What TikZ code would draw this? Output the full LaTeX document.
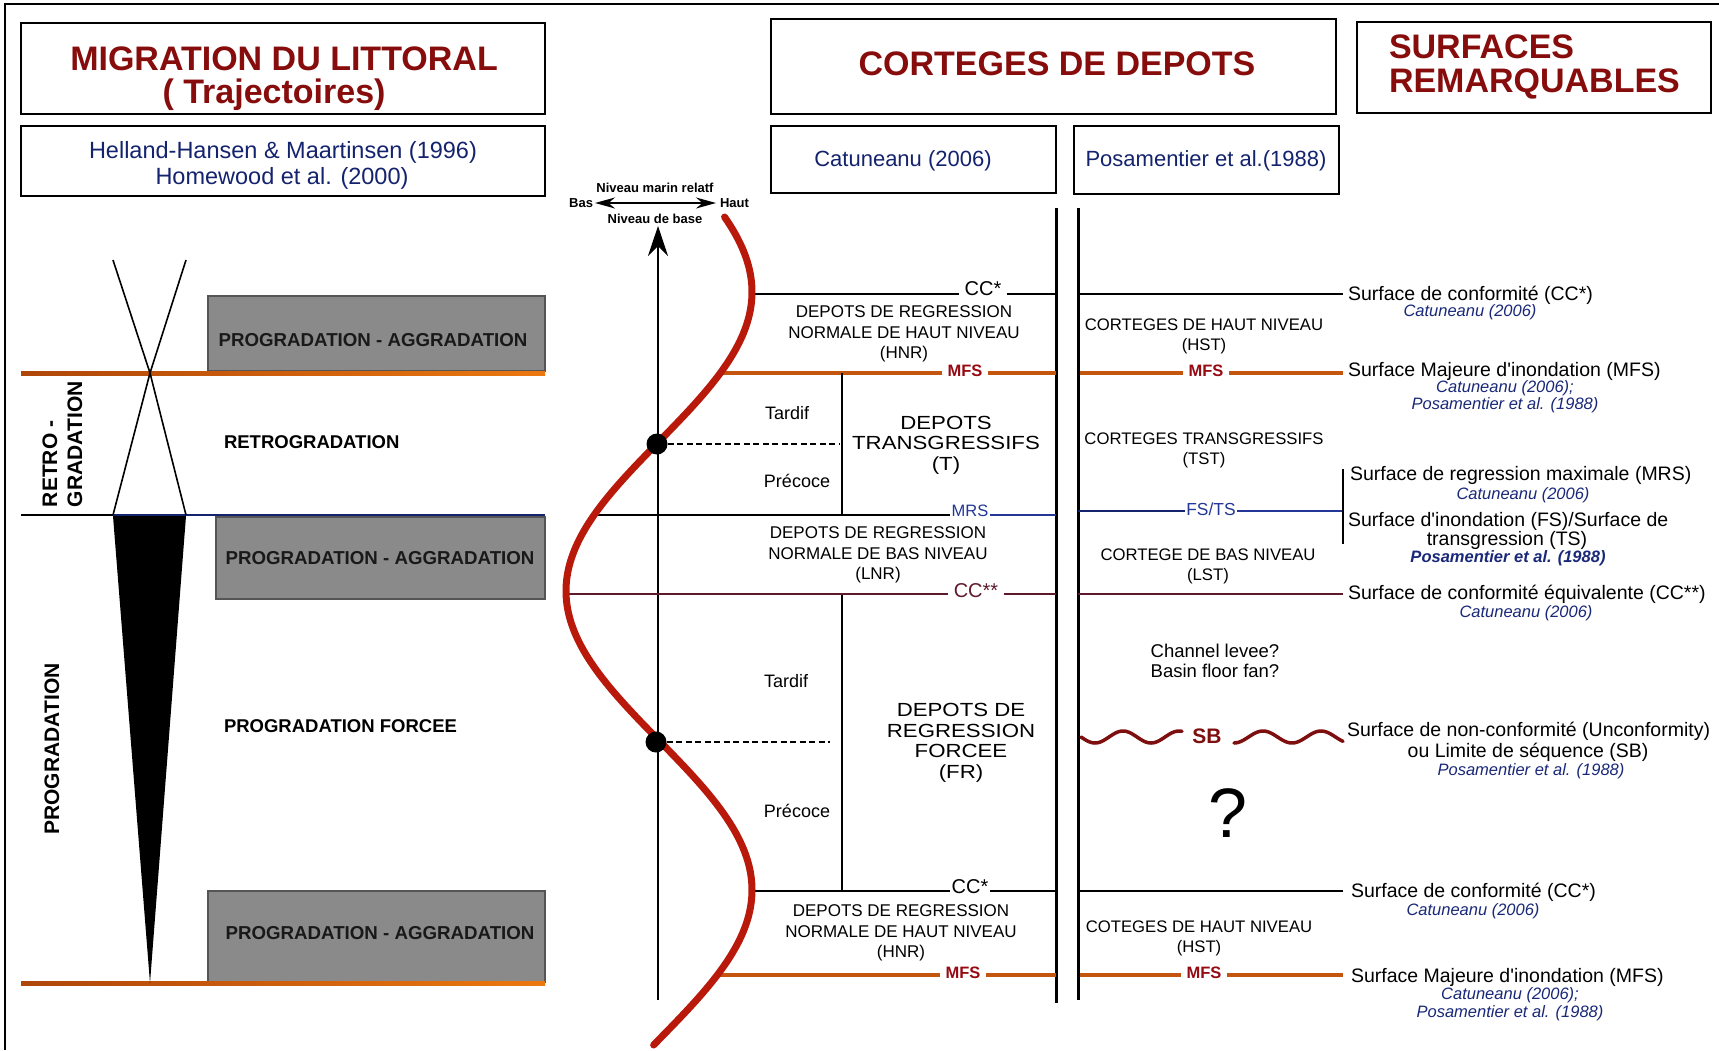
\documentclass[tikz,border=0pt]{standalone}
\usepackage{fontspec}
\setmainfont{Liberation Sans}
\newfontfamily\widefont[FakeStretch=1.17]{Liberation Sans}
\usetikzlibrary{arrows.meta}

\definecolor{titlered}{RGB}{135,12,12}
\definecolor{navy}{RGB}{20,35,110}
\definecolor{refblue}{RGB}{25,40,120}
\definecolor{curvered}{RGB}{185,25,10}
\definecolor{mfsline}{RGB}{195,85,15}
\definecolor{mfstext}{RGB}{150,10,20}
\definecolor{mrsblue}{RGB}{35,55,150}
\definecolor{ccmaroon}{RGB}{95,25,45}
\definecolor{boxgray}{RGB}{138,138,138}
\definecolor{boxedge}{RGB}{85,85,85}
\definecolor{orangeL}{RGB}{175,70,10}
\definecolor{orangeR}{RGB}{235,120,15}
\definecolor{sbred}{RGB}{125,15,15}

\tikzset{
  every node/.style={inner sep=0pt, outer sep=0pt},
  frame/.style={draw=black, line width=2.2pt},
  titletxt/.style={font=\fontsize{34}{36}\selectfont\bfseries, text=titlered},
  reftxt/.style={font=\fontsize{23.5}{26}\selectfont, text=navy},
  hdrtxt/.style={font=\fontsize{22}{26}\selectfont, text=navy},
  graybox/.style={fill=boxgray, draw=boxedge, line width=2pt},
  graytxt/.style={font=\fontsize{18.7}{20}\selectfont\bfseries, text=black!90},
  leftlbl/.style={font=\fontsize{18.5}{20}\selectfont\bfseries},
  vertlbl/.style={font=\fontsize{21}{24}\selectfont\bfseries, rotate=90},
  midtxt/.style={font=\fontsize{17}{20.5}\selectfont, align=center},
  widetxt/.style={font=\widefont\fontsize{19}{20.5}\selectfont, align=center},
  rtxt/.style={font=\fontsize{16.7}{20}\selectfont, align=center},
  phase/.style={font=\fontsize{18}{20}\selectfont},
  surf/.style={font=\fontsize{19.5}{21}\selectfont},
  refit/.style={font=\fontsize{16.5}{18}\selectfont\itshape, text=refblue},
  smalltxt/.style={font=\fontsize{13}{14}\selectfont\bfseries},
  lbl/.style={fill=white, inner xsep=6pt, inner ysep=1pt},
  mfslbl/.style={lbl, font=\fontsize{16.5}{18}\selectfont\bfseries, text=mfstext},
  cclbl/.style={lbl, font=\fontsize{20}{22}\selectfont},
  thinline/.style={line width=2pt},
  mfs/.style={line width=4.5pt, draw=mfsline},
  curve/.style={line width=7pt, draw=curvered, line cap=round},
  dotnode/.style={circle, fill=black, minimum size=21pt},
}

\begin{document}
\begin{tikzpicture}[x=1pt,y=-1pt]
\fill[white] (0,0) rectangle (1719,1050);
\useasboundingbox (0,0) rectangle (1719,1050);

% outer frame
\draw[line width=1.2pt] (5,1050) -- (5,4) -- (1719,4);

% header boxes
\node[frame, minimum width=524pt, minimum height=91pt] (boxA) at (283,68.5) {};
\node[titletxt] (tA1) at (284,58.5) {MIGRATION DU LITTORAL};
\node[titletxt] (tA2) at (274,95) {( Trajectoires)};
\node[frame, minimum width=524pt, minimum height=70pt] (boxB) at (283,161) {};
\node[reftxt] (tB1) at (283,152) {Helland-Hansen \& Maartinsen (1996)};
\node[reftxt] (tB2) at (282,178) {Homewood et al. (2000)};
\node[frame, minimum width=565pt, minimum height=95pt] (boxC) at (1053.5,66.5) {};
\node[titletxt] (tC) at (1057,64) {CORTEGES DE DEPOTS};
\node[frame, minimum width=354pt, minimum height=91pt] (boxD) at (1534,67.5) {};
\node[titletxt, anchor=west] (tD1) at (1389,47) {SURFACES};
\node[titletxt, anchor=west] (tD2) at (1389,84) {REMARQUABLES};
\node[frame, minimum width=285pt, minimum height=67pt] (boxE) at (913.5,159.5) {};
\node[hdrtxt] (tE) at (903,161) {Catuneanu (2006)};
\node[frame, minimum width=265pt, minimum height=68pt] (boxF) at (1206.5,160) {};
\node[hdrtxt] (tF) at (1206,161) {Posamentier et al.(1988)};

% ---------------- left panel ----------------
\node[graybox, minimum width=337pt, minimum height=75pt] (g1) at (376.5,333.5) {};
\node[graybox, minimum width=329pt, minimum height=82pt] (g2) at (380.5,558) {};
\node[graybox, minimum width=337pt, minimum height=91pt] (g3) at (376.5,936.5) {};
\node[graytxt] (g1t) at (373,340) {PROGRADATION - AGGRADATION};
\node[graytxt] (g2t) at (380,558) {PROGRADATION - AGGRADATION};
\node[graytxt] (g3t) at (380,933) {PROGRADATION - AGGRADATION};

\shade[left color=orangeL, right color=orangeR] (21,371) rectangle (545,375.5);
\shade[left color=orangeL, right color=orangeR] (21,981) rectangle (545,985.5);
\draw[line width=1.6pt] (21,515) -- (113,515);
\draw[line width=1.6pt, draw=navy] (113,515) -- (545,515);

\draw[line width=1.6pt] (113,260) -- (150,373) -- (186,515);
\draw[line width=1.6pt] (186,260) -- (150,373) -- (113,515);
\fill[black] (113,516) -- (186,516) -- (150,983) -- cycle;

\node[vertlbl, anchor=west] (retro) at (50,507) {RETRO -};
\node[vertlbl, anchor=west] (grad) at (75,507) {GRADATION};
\node[vertlbl] (prog) at (52,749) {PROGRADATION};
\node[leftlbl, anchor=west] (retrot) at (224,442) {RETROGRADATION};
\node[leftlbl, anchor=west] (progf) at (224,726) {PROGRADATION FORCEE};

% ---------------- axis ----------------
\node[smalltxt] (nmr) at (655,187.5) {Niveau marin relatf};
\node[smalltxt, anchor=east] (bas) at (593,203) {Bas};
\node[smalltxt, anchor=west] (haut) at (720,203) {Haut};
\node[smalltxt] (ndb) at (655,218.5) {Niveau de base};
\draw[line width=1.8pt, {Stealth[length=20pt,width=11pt]}-{Stealth[length=20pt,width=11pt]}] ([xshift=2pt]bas.east) -- ([xshift=-4pt]haut.west);
\coordinate (axB) at (658,1000);
\coordinate (axT) at (658,226);
\draw[line width=2pt, -{Stealth[length=30pt,width=20pt]}] (axB) -- (axT);

% ---------------- middle column lines ----------------
\draw[line width=3pt] (1056,208) -- (1056,1003);
\draw[line width=3pt] (1078,208) -- (1078,1000);

% CC* top
\draw[thinline] (751,294) -- (1056,294);
\node[cclbl] (cc1) at (983,289) {CC*};
% MFS top
\draw[mfs] (721,373) -- (1056,373);
\node[mfslbl] (mfs1) at (965,371) {MFS};
% vertical Tardif/Precoce
\draw[thinline] (842,373) -- (842,515);
\draw[thinline] (842,594) -- (842,891);
% MRS
\draw[thinline] (595,515) -- (955,515);
\draw[thinline, draw=mrsblue] (985,515) -- (1056,515);
\node[lbl, font=\fontsize{16.5}{18}\selectfont, text=mrsblue, inner xsep=2pt] (mrs) at (970,511) {MRS};
% CC**
\draw[line width=1.8pt, draw=ccmaroon] (567,594) -- (1056,594);
\node[cclbl, text=ccmaroon] (cc2) at (976,591) {CC**};
% CC* bottom
\draw[thinline] (750,891) -- (1056,891);
\node[cclbl, inner xsep=2pt] (cc3) at (970,887) {CC*};
% MFS bottom
\draw[mfs] (719,975) -- (1056,975);
\node[mfslbl] (mfs2) at (963,973) {MFS};

% middle texts
\node[midtxt] (hnr1) at (904,334) {DEPOTS DE REGRESSION\\NORMALE DE HAUT NIVEAU\\(HNR)};
\node[widetxt] (trans) at (946,445) {DEPOTS\\TRANSGRESSIFS\\(T)};
\node[midtxt] (lnr) at (878,555) {DEPOTS DE REGRESSION\\NORMALE DE BAS NIVEAU\\(LNR)};
\node[widetxt] (fr) at (961,743) {DEPOTS DE\\REGRESSION\\FORCEE\\(FR)};
\node[midtxt] (hnr2) at (901,933) {DEPOTS DE REGRESSION\\NORMALE DE HAUT NIVEAU\\(HNR)};
\node[phase] (ta1) at (787,413) {Tardif};
\node[phase] (pr1) at (797,481) {Précoce};
\node[phase] (ta2) at (786,681) {Tardif};
\node[phase] (pr2) at (797,811) {Précoce};

% ---------------- right column lines ----------------
\coordinate (brk) at (1343,511);
\draw[thinline] (1078,294) -- (1343,294);
\draw[mfs] (1080,373) -- (1343,373);
\node[mfslbl] (mfs3) at (1206,371) {MFS};
\draw[thinline, draw=navy] (1078,511) -- (1195,511);
\draw[thinline, draw=mrsblue] (1225,511) -- (brk);
\node[lbl, font=\fontsize{17.4}{19}\selectfont, text=mrsblue, inner xsep=1.5pt] (fsts) at (1211,509) {FS/TS};
\draw[thinline] (1343,469) -- (1343,544);
\draw[line width=1.8pt, draw=ccmaroon] (1078,594) -- (1343,594);
\draw[line width=3.5pt, draw=sbred, line cap=round] plot[domain=1081:1182, samples=60, smooth] (\x,{737+6*sin((\x-1081)/56*360)});
\draw[line width=3.5pt, draw=sbred, line cap=round] plot[domain=1234:1343, samples=60, smooth] (\x,{737+6*cos((\x-1234)/58*360)});
\node[font=\fontsize{21}{22}\selectfont\bfseries, text=sbred] (sb) at (1207,736) {SB};
\draw[thinline] (1078,891) -- (1343,891);
\draw[mfs] (1080,975) -- (1343,975);
\node[mfslbl] (mfs4) at (1204,973) {MFS};

% right column texts
\node[rtxt] (hst1) at (1204,336) {CORTEGES DE HAUT NIVEAU\\(HST)};
\node[rtxt] (tst) at (1204,450) {CORTEGES TRANSGRESSIFS\\(TST)};
\node[rtxt] (lst) at (1208,566) {CORTEGE DE BAS NIVEAU\\(LST)};
\node[font=\fontsize{18.5}{20}\selectfont, align=center] (chan) at (1215,661) {Channel levee?\\Basin floor fan?};
\node[font=\fontsize{70}{70}\selectfont] (qm) at (1228,813) {?};
\node[rtxt] (hst2) at (1199,938) {COTEGES DE HAUT NIVEAU\\(HST)};

% surfaces
\node[surf, anchor=west] (s1) at (1348,295) {Surface de conformité (CC*)};
\node[refit] (r1) at (1470,312) {Catuneanu (2006)};
\node[surf, anchor=west] (s2) at (1348,371) {Surface Majeure d\textquotesingle{}inondation (MFS)};
\node[refit] (r2a) at (1505,388) {Catuneanu (2006);};
\node[refit] (r2b) at (1505,405) {Posamentier et al. (1988)};
\node[surf, anchor=west] (s3) at (1350,475) {Surface de regression maximale (MRS)};
\node[refit] (r3) at (1523,495) {Catuneanu (2006)};
\node[surf, anchor=west] (s4) at (1348,521) {Surface d\textquotesingle{}inondation (FS)/Surface de};
\node[surf] (s4b) at (1507,540) {transgression (TS)};
\node[refit, font=\fontsize{16.5}{18}\selectfont\bfseries\itshape] (r4) at (1508,558) {Posamentier et al. (1988)};
\node[surf, anchor=west] (s5) at (1348,594) {Surface de conformité équivalente (CC**)};
\node[refit] (r5) at (1526,613) {Catuneanu (2006)};
\node[surf, anchor=west] (s6) at (1347,731) {Surface de non-conformité (Unconformity)};
\node[surf] (s6b) at (1528,752) {ou Limite de séquence (SB)};
\node[refit] (r6) at (1531,771) {Posamentier et al. (1988)};
\node[surf, anchor=west] (s7) at (1351,892) {Surface de conformité (CC*)};
\node[refit] (r7) at (1473,911) {Catuneanu (2006)};
\node[surf, anchor=west] (s8) at (1351,977) {Surface Majeure d\textquotesingle{}inondation (MFS)};
\node[refit] (r8a) at (1510,995) {Catuneanu (2006);};
\node[refit] (r8b) at (1510,1013) {Posamentier et al. (1988)};

% ---------------- red curve and dots ----------------
\draw[curve] plot[domain=217:1045, samples=150, smooth] ({659+93*cos((\x-292)/299*180)},\x);
\node[dotnode] (d1) at (657,444) {};
\node[dotnode] (d2) at (656,742) {};
\coordinate (e1) at (840,444);
\coordinate (e2) at (830,742);
\draw[line width=1.6pt, dash pattern=on 6pt off 3.5pt] (d1) -- (e1);
\draw[line width=1.6pt, dash pattern=on 6pt off 3.5pt] (d2) -- (e2);
\end{tikzpicture}
\end{document}
